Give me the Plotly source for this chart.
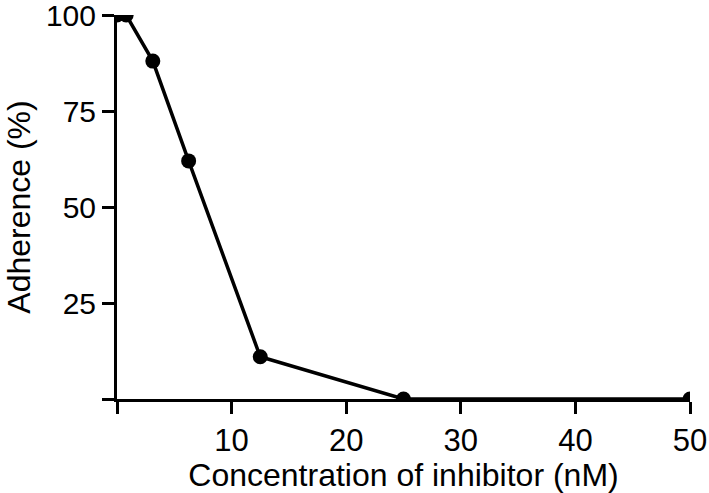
import plotly.graph_objects as go

concentration_nM = [0, 0.8, 3.125, 6.25, 12.5, 25, 50]
adherence_pct = [100, 100, 88, 62, 11, 0, 0]

x_tickvals = [0, 10, 20, 30, 40, 50]
x_ticktext = ["", "10", "20", "30", "40", "50"]
y_tickvals = [0, 25, 50, 75, 100]
y_ticktext = ["", "25", "50", "75", "100"]

fig = go.Figure()
fig.add_trace(go.Scatter(
    x=concentration_nM, y=adherence_pct,
    mode="lines+markers",
    line=dict(color="black", width=3.5),
    marker=dict(color="black", size=15),
    cliponaxis=True,
    showlegend=False,
))

font = "Liberation Sans, Arial, Helvetica, sans-serif"
fig.update_layout(
    width=709, height=493,
    margin=dict(l=117, r=19, t=15, b=94),
    paper_bgcolor="white", plot_bgcolor="white",
    font=dict(family=font, color="black", size=31),
)
fig.update_xaxes(
    range=[0, 50], tickvals=x_tickvals, ticktext=x_ticktext,
    showgrid=False, zeroline=False, automargin=False,
    showline=True, linecolor="black", linewidth=3,
    ticks="outside", ticklen=12, tickwidth=3, tickcolor="black",
    tickfont=dict(size=31), ticklabeloverflow="allow",
    title=dict(text="Concentration of inhibitor (nM)", font=dict(size=32), standoff=4),
)
fig.update_yaxes(
    range=[0, 100], tickvals=y_tickvals, ticktext=y_ticktext,
    showgrid=False, zeroline=False, automargin=False,
    showline=True, linecolor="black", linewidth=3,
    ticks="outside", ticklen=12, tickwidth=3, tickcolor="black",
    tickfont=dict(size=30), ticklabeloverflow="allow",
    title=dict(text="Adherence (%)", font=dict(size=32), standoff=6),
)

fig.write_html("out.html", config={"displayModeBar": False},
               post_script="document.body.style.margin='0';")
